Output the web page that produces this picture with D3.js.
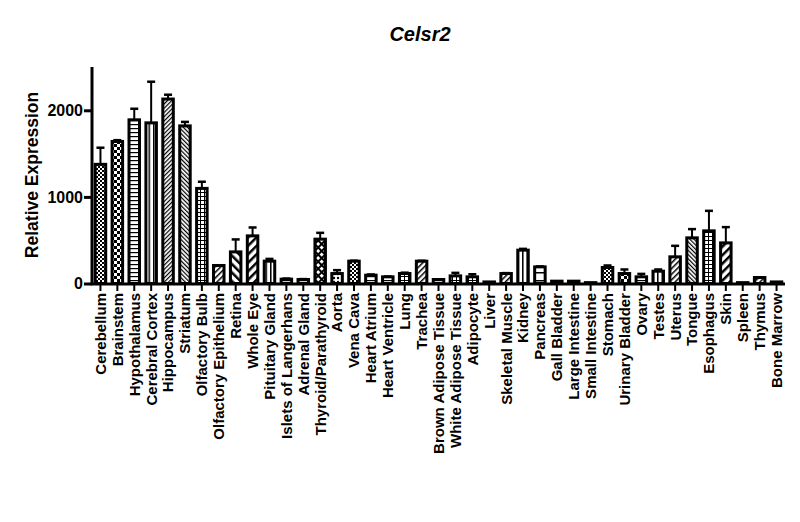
<!DOCTYPE html>
<html><head><meta charset="utf-8">
<script src="https://cdn.jsdelivr.net/npm/d3@7"></script>
<style>
html,body{margin:0;padding:0;background:#fff;}
svg{display:block;font-family:"Liberation Sans",Arial,sans-serif;}
</style></head>
<body>
<svg id="chart" width="800" height="522"></svg>
<script>
const title = "Celsr2";
const yLabel = "Relative Expression";
const categories = ["Cerebellum","Brainstem","Hypothalamus","Cerebral Cortex","Hippocampus","Striatum","Olfactory Bulb","Olfactory Epithelium","Retina","Whole Eye","Pituitary Gland","Islets of Langerhans","Adrenal Gland","Thyroid/Parathyroid","Aorta","Vena Cava","Heart Atrium","Heart Ventricle","Lung","Trachea","Brown Adipose Tissue","White Adipose Tissue","Adipocyte","Liver","Skeletal Muscle","Kidney","Pancreas","Gall Bladder","Large Intestine","Small Intestine","Stomach","Urinary Bladder","Ovary","Testes","Uterus","Tongue","Esophagus","Skin","Spleen","Thymus","Bone Marrow"];
const values = [1376,1640,1890,1855,2130,1820,1098,208,365,550,258,50,46,512,115,258,96,77,115,258,46,88,77,18,115,385,192,27,27,10,185,115,77,142,308,527,608,469,10,69,18];
const errors = [192,15,128,475,50,46,77,0,144,97,26,7,5,73,39,5,8,3,10,4,3,35,30,0,5,15,5,0,0,0,23,47,34,20,127,101,231,182,0,3,0];
const yTicks = [0,1000,2000];

// fill pattern per bar (style)
const patternOrder = ["checkFine","checkMed","hlines","vlinesWide","diagFineR","diagFineL","grid","diagMedR","diagThickL","diagThickR","vlinesWide","hlines","hlines","diamonds","dots","checkFine","hlines","hlines","grid","diagMedR","hlines","grid","grid","none","diagMedR","vlinesWide","hlinesWide","none","none","none","checkFine","checkMed","hlines","vlinesWide","diagMedR","diagFineL","grid","diagThickR","none","diagMedR","none"];

const svg = d3.select("#chart");
const defs = svg.append("defs");
function pat(id, w, h, draw, rot) {
  const p = defs.append("pattern").attr("id", id).attr("patternUnits","userSpaceOnUse")
    .attr("width", w).attr("height", h);
  if (rot) p.attr("patternTransform", "rotate(" + rot + ")");
  p.append("rect").attr("width", w).attr("height", h).attr("fill", "#fff");
  draw(p);
}
pat("checkFine", 4, 4, p => { p.append("rect").attr("width",2).attr("height",2).attr("fill","#000"); p.append("rect").attr("x",2).attr("y",2).attr("width",2).attr("height",2).attr("fill","#000"); });
pat("checkMed", 6, 6, p => { p.append("rect").attr("width",3).attr("height",3).attr("fill","#000"); p.append("rect").attr("x",3).attr("y",3).attr("width",3).attr("height",3).attr("fill","#000"); });
pat("hlines", 4, 4, p => p.append("rect").attr("width",4).attr("height",1.2).attr("fill","#000"));
pat("hlinesWide", 8, 8, p => p.append("rect").attr("width",8).attr("height",1.5).attr("fill","#000"));
pat("vlinesWide", 4.5, 4, p => p.append("rect").attr("width",1.5).attr("height",4).attr("fill","#000"));
pat("diagFineR", 3, 3, p => p.append("rect").attr("width",1.2).attr("height",3).attr("fill","#000"), 45);
pat("diagFineL", 3, 3, p => p.append("rect").attr("width",1.2).attr("height",3).attr("fill","#000"), -45);
pat("diagMedR", 4, 4, p => p.append("rect").attr("width",1.5).attr("height",4).attr("fill","#000"), 45);
pat("diagThickL", 6, 6, p => p.append("rect").attr("width",2.5).attr("height",6).attr("fill","#000"), -45);
pat("diagThickR", 6, 6, p => p.append("rect").attr("width",2.5).attr("height",6).attr("fill","#000"), 45);
pat("grid", 4, 4, p => { p.append("rect").attr("width",4).attr("height",1).attr("fill","#000"); p.append("rect").attr("width",1).attr("height",4).attr("fill","#000"); });
pat("diamonds", 5, 5, p => { p.append("rect").attr("width",5).attr("height",5).attr("fill","#000"); p.append("rect").attr("x",1).attr("y",1).attr("width",3).attr("height",3).attr("fill","#fff"); }, 45);
pat("dots", 4, 4, p => p.append("circle").attr("cx",2).attr("cy",2).attr("r",1.2).attr("fill","#000"));
pat("none", 4, 4, p => {});

const x = d3.scaleBand().domain(categories).range([92, 785]).paddingInner(0.2).paddingOuter(0.1);
const y = d3.scaleLinear().domain([0, 2500]).range([283.5, 67]);
const step = x.step();
const bw = 10.5;

// bars
const g = svg.append("g");
categories.forEach((c, i) => {
  const cx = x(c) + x.bandwidth() / 2;
  const v = values[i], e = errors[i];
  if (e > 0) {
    g.append("line").attr("x1", cx).attr("x2", cx).attr("y1", y(v)).attr("y2", y(v + e))
      .attr("stroke", "#000").attr("stroke-width", 2);
    g.append("line").attr("x1", cx - 4).attr("x2", cx + 4).attr("y1", y(v + e)).attr("y2", y(v + e))
      .attr("stroke", "#000").attr("stroke-width", 2.5);
  }
  g.append("rect").attr("x", cx - bw / 2).attr("y", y(v)).attr("width", bw)
    .attr("height", Math.max(0, y(0) - y(v)))
    .attr("fill", "url(#" + patternOrder[i] + ")")
    .attr("stroke", "#000").attr("stroke-width", 3);
});

// y axis
const yAxis = svg.append("g").attr("transform", "translate(92,0)")
  .call(d3.axisLeft(y).tickValues(yTicks).tickSize(8).tickSizeOuter(0).tickFormat(d3.format("d")));
yAxis.select(".domain").remove();
yAxis.append("line").attr("x1", 0).attr("x2", 0).attr("y1", 67).attr("y2", 285).attr("stroke", "#000").attr("stroke-width", 3);
yAxis.selectAll(".tick line").attr("stroke", "#000").attr("stroke-width", 3);
yAxis.selectAll(".tick text").attr("x", -9).attr("font-size", 16).attr("font-weight", "bold")
  .attr("font-family", "Liberation Sans, Arial, sans-serif").attr("fill", "#000");

// x axis
const xAxis = svg.append("g").attr("transform", "translate(0,284)")
  .call(d3.axisBottom(x).tickSize(7).tickSizeOuter(0));
xAxis.select(".domain").remove();
xAxis.append("line").attr("x1", 90.5).attr("x2", 785).attr("y1", 0).attr("y2", 0).attr("stroke", "#000").attr("stroke-width", 3);
xAxis.selectAll(".tick line").attr("stroke", "#000").attr("stroke-width", 2);
xAxis.selectAll(".tick text")
  .attr("transform", "rotate(-90)")
  .attr("x", -9).attr("y", 0).attr("dy", "0.36em")
  .attr("text-anchor", "end")
  .attr("font-size", 15).attr("font-weight", "bold")
  .attr("font-family", "Liberation Sans, Arial, sans-serif").attr("fill", "#000");

// title
svg.append("text").attr("x", 420).attr("y", 41).attr("text-anchor", "middle")
  .attr("font-size", 20).attr("font-weight", "bold").attr("font-style", "italic").text(title);
// y label
svg.append("text").attr("transform", "translate(38,175) rotate(-90)").attr("text-anchor", "middle")
  .attr("font-size", 17.5).attr("font-weight", "bold").text(yLabel);
</script>
</body></html>
